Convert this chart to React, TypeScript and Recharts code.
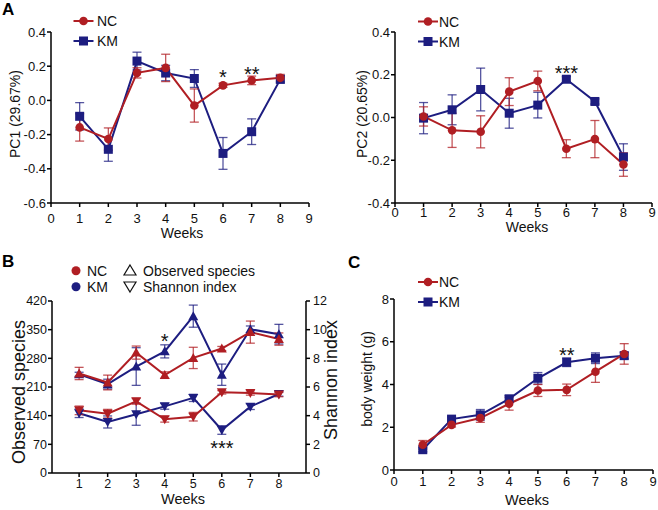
import { LineChart, Line, XAxis, YAxis, ErrorBar, ReferenceDot } from 'recharts'

const RED = '#b01e23'
const BLUE = '#1d1d80'
const FONT = '"Liberation Sans", Arial, sans-serif'

const weeks = [1, 2, 3, 4, 5, 6, 7, 8]

// A: PC1
const pc1NC = [-0.158, -0.226, 0.161, 0.19, -0.03, 0.088, 0.117, 0.132]
const pc1NCErr = [0.08, 0.065, 0.03, 0.08, 0.097, 0.012, 0.025, 0.02]
const pc1KM = [-0.093, -0.286, 0.23, 0.16, 0.128, -0.31, -0.183, 0.123]
const pc1KMErr = [0.08, 0.07, 0.052, 0.045, 0.052, 0.093, 0.075, 0.02]

// A: PC2
const pc2NC = [0.005, -0.06, -0.067, 0.121, 0.171, -0.146, -0.101, -0.22]
const pc2NCErr = [0.045, 0.08, 0.075, 0.065, 0.046, 0.042, 0.087, 0.055]
const pc2KM = [-0.003, 0.036, 0.131, 0.02, 0.058, 0.179, 0.075, -0.185]
const pc2KMErr = [0.073, 0.07, 0.1, 0.07, 0.06, 0.012, 0.012, 0.062]

// B: observed species (left) and shannon index (right)
const obsNC = [243, 221, 294, 239, 281, 304, 344, 327]
const obsNCErr = [15, 18, 16, 8, 26, 5, 27, 15]
const obsKM = [241, 217, 260, 297, 383, 240, 351, 339]
const obsKMErr = [5, 12, 46, 16, 27, 26, 8, 24]
const shNC = [4.37, 4.14, 5.0, 3.75, 3.93, 5.63, 5.58, 5.47]
const shNCErr = [0.3, 0.3, 0.2, 0.2, 0.3, 0.12, 0.15, 0.15]
const shKM = [4.17, 3.56, 4.1, 4.65, 5.24, 3.0, 4.63, 5.51]
const shKMErr = [0.3, 0.42, 0.77, 0.2, 0.25, 0.3, 0.2, 0.15]

// C: body weight
const bwNC = [1.18, 2.11, 2.43, 3.1, 3.72, 3.75, 4.6, 5.43]
const bwNCErr = [0.2, 0.1, 0.2, 0.3, 0.28, 0.27, 0.5, 0.48]
const bwKM = [0.95, 2.38, 2.58, 3.33, 4.29, 5.04, 5.23, 5.35]
const bwKMErr = [0.1, 0.1, 0.25, 0.15, 0.27, 0.2, 0.25, 0.15]

const weekTicks = [0, 1, 2, 3, 4, 5, 6, 7, 8, 9]
const pc1Ticks = [-0.6, -0.4, -0.2, 0, 0.2, 0.4]
const pc2Ticks = [-0.4, -0.2, 0, 0.2, 0.4]
const obsTicks = [0, 70, 140, 210, 280, 350, 420]
const shTicks = [0, 2, 4, 6, 8, 10, 12]
const bwTicks = [0, 2, 4, 6, 8]

const pc1Stars = [{ week: 6, y: 0.136, text: '*' }, { week: 7, y: 0.157, text: '**' }]
const pc2Stars = [{ week: 6, y: 0.207, text: '***' }]
const divStars = [{ week: 4, y: 323, text: '*' }, { week: 6, y: 61, text: '***' }]
const bwStars = [{ week: 6, y: 5.37, text: '**' }]

function table(cols: Record<string, number[]>) {
  return weeks.map((week, i) => {
    const row: Record<string, number> = { week }
    for (const k in cols) row[k] = cols[k][i]
    return row
  })
}

type DotProps = { cx?: number; cy?: number; index?: number }
const circleDot = (fill: string) => (p: DotProps) => (
  <circle key={`c-${p.index}`} cx={p.cx} cy={p.cy} r={4.3} fill={fill} />
)
const squareDot = (fill: string) => (p: DotProps) => (
  <rect key={`s-${p.index}`} x={(p.cx ?? 0) - 4.5} y={(p.cy ?? 0) - 4.5} width={9} height={9} fill={fill} />
)
const triUpDot = (fill: string) => (p: DotProps) => {
  const x = p.cx ?? 0
  const y = p.cy ?? 0
  return <polygon key={`u-${p.index}`} points={`${x},${y - 5} ${x + 5},${y + 4} ${x - 5},${y + 4}`} fill={fill} />
}
const triDownDot = (fill: string) => (p: DotProps) => {
  const x = p.cx ?? 0
  const y = p.cy ?? 0
  return <polygon key={`d-${p.index}`} points={`${x},${y + 5} ${x + 5},${y - 4} ${x - 5},${y - 4}`} fill={fill} />
}

const axisLine = { stroke: '#000', strokeWidth: 1.5 }
const tickStyle = (size: number) => ({ fill: '#111', fontSize: size, fontFamily: FONT })

function vTitle(text: string, x: number, y: number, size: number) {
  return {
    content: () => (
      <text x={x} y={y} transform={`rotate(-90, ${x}, ${y})`} textAnchor="middle" dominantBaseline="central" fontSize={size} fontFamily={FONT} fill="#111">
        {text}
      </text>
    ),
  }
}
function hTitle(text: string, x: number, y: number, size: number) {
  return {
    content: () => (
      <text x={x} y={y} textAnchor="middle" dominantBaseline="central" fontSize={size} fontFamily={FONT} fill="#111">
        {text}
      </text>
    ),
  }
}

function errBar(key: string, color: string) {
  return <ErrorBar dataKey={key} direction="y" width={4.5} stroke={color} strokeOpacity={0.75} strokeWidth={1.3} isAnimationActive={false} />
}

function stars(list: { week: number; y: number; text: string }[], yAxisId?: string) {
  return list.map((s, i) => (
    <ReferenceDot
      key={`st-${i}`}
      x={s.week}
      y={s.y}
      yAxisId={yAxisId ?? 0}
      r={1}
      fill="none"
      stroke="none"
      ifOverflow="visible"
      label={{ value: s.text, position: 'center', fontSize: 20, fill: '#111', fontFamily: FONT }}
    />
  ))
}

function PC1Chart() {
  const data = table({ nc: pc1NC, nce: pc1NCErr, km: pc1KM, kme: pc1KMErr })
  return (
    <LineChart width={330} height={250} data={data} margin={{ top: 32, right: 21, bottom: 0, left: 0 }}>
      <XAxis type="number" dataKey="week" domain={[0, 9]} ticks={weekTicks} interval={0} axisLine={axisLine} tickLine={axisLine} tickSize={4} tickMargin={7} tick={tickStyle(13)} height={47} label={hTitle('Weeks', 182, 233, 14)} />
      <YAxis type="number" domain={[-0.6, 0.4]} ticks={pc1Ticks} interval={0} tickFormatter={(v: number) => v.toFixed(1)} axisLine={axisLine} tickLine={axisLine} tickSize={4} tickMargin={1} tick={tickStyle(13)} width={51} label={vTitle('PC1 (29.67%)', 15, 114, 14)} />
      <Line type="linear" dataKey="km" stroke={BLUE} strokeWidth={2} dot={squareDot(BLUE)} activeDot={false} isAnimationActive={false}>
        {errBar('kme', BLUE)}
      </Line>
      <Line type="linear" dataKey="nc" stroke={RED} strokeWidth={2} dot={circleDot(RED)} activeDot={false} isAnimationActive={false}>
        {errBar('nce', RED)}
      </Line>
      {stars(pc1Stars)}
    </LineChart>
  )
}

function PC2Chart() {
  const data = table({ nc: pc2NC, nce: pc2NCErr, km: pc2KM, kme: pc2KMErr })
  return (
    <LineChart width={328} height={250} data={data} margin={{ top: 32, right: 6, bottom: 0, left: 0 }}>
      <XAxis type="number" dataKey="week" domain={[0, 9]} ticks={weekTicks} interval={0} axisLine={axisLine} tickLine={axisLine} tickSize={4} tickMargin={1} tick={tickStyle(13)} height={47} label={hTitle('Weeks', 197, 227, 14)} />
      <YAxis type="number" domain={[-0.4, 0.4]} ticks={pc2Ticks} interval={0} tickFormatter={(v: number) => v.toFixed(1)} axisLine={axisLine} tickLine={axisLine} tickSize={4} tickMargin={1} tick={tickStyle(13)} width={65} label={vTitle('PC2 (20.65%)', 32, 114, 14)} />
      <Line type="linear" dataKey="km" stroke={BLUE} strokeWidth={2} dot={squareDot(BLUE)} activeDot={false} isAnimationActive={false}>
        {errBar('kme', BLUE)}
      </Line>
      <Line type="linear" dataKey="nc" stroke={RED} strokeWidth={2} dot={circleDot(RED)} activeDot={false} isAnimationActive={false}>
        {errBar('nce', RED)}
      </Line>
      {stars(pc2Stars)}
    </LineChart>
  )
}

function DiversityChart() {
  const data = table({ onc: obsNC, once: obsNCErr, okm: obsKM, okme: obsKMErr, snc: shNC, snce: shNCErr, skm: shKM, skme: shKMErr })
  return (
    <LineChart width={345} height={260} data={data} margin={{ top: 51, right: 0, bottom: 0, left: 0 }}>
      <XAxis type="number" dataKey="week" domain={[0.05, 8.95]} ticks={weeks} interval={0} axisLine={axisLine} tickLine={axisLine} tickSize={4} tickMargin={2} tick={tickStyle(12.5)} height={37} label={hTitle('Weeks', 183, 249, 14.5)} />
      <YAxis yAxisId="l" orientation="left" type="number" domain={[0, 420]} ticks={obsTicks} interval={0} axisLine={axisLine} tickLine={axisLine} tickSize={4} tickMargin={1} tick={tickStyle(12.5)} width={52} label={vTitle('Observed species', 19, 142, 18)} />
      <YAxis yAxisId="r" orientation="right" type="number" domain={[0, 12]} ticks={shTicks} interval={0} axisLine={axisLine} tickLine={axisLine} tickSize={4} tickMargin={3} tick={tickStyle(12.5)} width={39} label={vTitle('Shannon index', 331, 130, 18)} />
      <Line yAxisId="l" type="linear" dataKey="okm" stroke={BLUE} strokeWidth={2} dot={triUpDot(BLUE)} activeDot={false} isAnimationActive={false}>
        {errBar('okme', BLUE)}
      </Line>
      <Line yAxisId="l" type="linear" dataKey="onc" stroke={RED} strokeWidth={2} dot={triUpDot(RED)} activeDot={false} isAnimationActive={false}>
        {errBar('once', RED)}
      </Line>
      <Line yAxisId="r" type="linear" dataKey="skm" stroke={BLUE} strokeWidth={2} dot={triDownDot(BLUE)} activeDot={false} isAnimationActive={false}>
        {errBar('skme', BLUE)}
      </Line>
      <Line yAxisId="r" type="linear" dataKey="snc" stroke={RED} strokeWidth={2} dot={triDownDot(RED)} activeDot={false} isAnimationActive={false}>
        {errBar('snce', RED)}
      </Line>
      {stars(divStars, 'l')}
    </LineChart>
  )
}

function WeightChart() {
  const data = table({ nc: bwNC, nce: bwNCErr, km: bwKM, kme: bwKMErr })
  return (
    <LineChart width={328} height={260} data={data} margin={{ top: 49, right: 5, bottom: 0, left: 0 }}>
      <XAxis type="number" dataKey="week" domain={[0, 9]} ticks={weekTicks} interval={0} axisLine={axisLine} tickLine={axisLine} tickSize={4} tickMargin={3} tick={tickStyle(13)} height={40} label={hTitle('Weeks', 197, 250, 14.5)} />
      <YAxis type="number" domain={[0, 8]} ticks={bwTicks} interval={0} axisLine={axisLine} tickLine={axisLine} tickSize={4} tickMargin={1} tick={tickStyle(13)} width={64} label={vTitle('body weight (g)', 37, 129, 14)} />
      <Line type="linear" dataKey="km" stroke={BLUE} strokeWidth={2} dot={squareDot(BLUE)} activeDot={false} isAnimationActive={false}>
        {errBar('kme', BLUE)}
      </Line>
      <Line type="linear" dataKey="nc" stroke={RED} strokeWidth={2} dot={circleDot(RED)} activeDot={false} isAnimationActive={false}>
        {errBar('nce', RED)}
      </Line>
      {stars(bwStars)}
    </LineChart>
  )
}

function LineLegend(props: { x: number; y: number; textX: number }) {
  const { x, y, textX } = props
  return (
    <g fontFamily={FONT} fontSize={14} fill="#111">
      <line x1={x - 10} x2={x + 10} y1={y} y2={y} stroke={RED} strokeWidth={2} />
      <circle cx={x} cy={y} r={4.3} fill={RED} />
      <text x={textX} y={y + 5}>NC</text>
      <line x1={x - 10} x2={x + 10} y1={y + 20} y2={y + 20} stroke={BLUE} strokeWidth={2} />
      <rect x={x - 4.5} y={y + 15.5} width={9} height={9} fill={BLUE} />
      <text x={textX} y={y + 25}>KM</text>
    </g>
  )
}

function Overlay() {
  return (
    <svg width={658} height={510} style={{ position: 'absolute', left: 0, top: 0, pointerEvents: 'none' }}>
      <g fontFamily={FONT} fontSize={17} fontWeight="bold" fill="#000">
        <text x={2} y={15}>A</text>
        <text x={2} y={267}>B</text>
        <text x={348} y={268}>C</text>
      </g>
      <LineLegend x={83.5} y={21} textX={97} />
      <LineLegend x={428} y={21.5} textX={439} />
      <LineLegend x={428} y={282} textX={439} />
      <g fontFamily={FONT} fontSize={14} fill="#111">
        <circle cx={76} cy={270.7} r={4.5} fill={RED} />
        <text x={87} y={275.7}>NC</text>
        <circle cx={76} cy={286.7} r={4.5} fill={BLUE} />
        <text x={87} y={291.7}>KM</text>
        <polygon points="130,265 136,275 124,275" fill="none" stroke="#111" strokeWidth={1.2} />
        <text x={143} y={275.7}>Observed species</text>
        <polygon points="130,292 136,282 124,282" fill="none" stroke="#111" strokeWidth={1.2} />
        <text x={143} y={291.7}>Shannon index</text>
      </g>
    </svg>
  )
}

export default function App() {
  return (
    <div style={{ position: 'absolute', left: 0, top: 0, width: 658, height: 510, background: '#fff', fontFamily: FONT }}>
      <div style={{ position: 'absolute', left: 0, top: 0 }}>
        <PC1Chart />
      </div>
      <div style={{ position: 'absolute', left: 330, top: 0 }}>
        <PC2Chart />
      </div>
      <div style={{ position: 'absolute', left: 0, top: 250 }}>
        <DiversityChart />
      </div>
      <div style={{ position: 'absolute', left: 330, top: 250 }}>
        <WeightChart />
      </div>
      <Overlay />
    </div>
  )
}
